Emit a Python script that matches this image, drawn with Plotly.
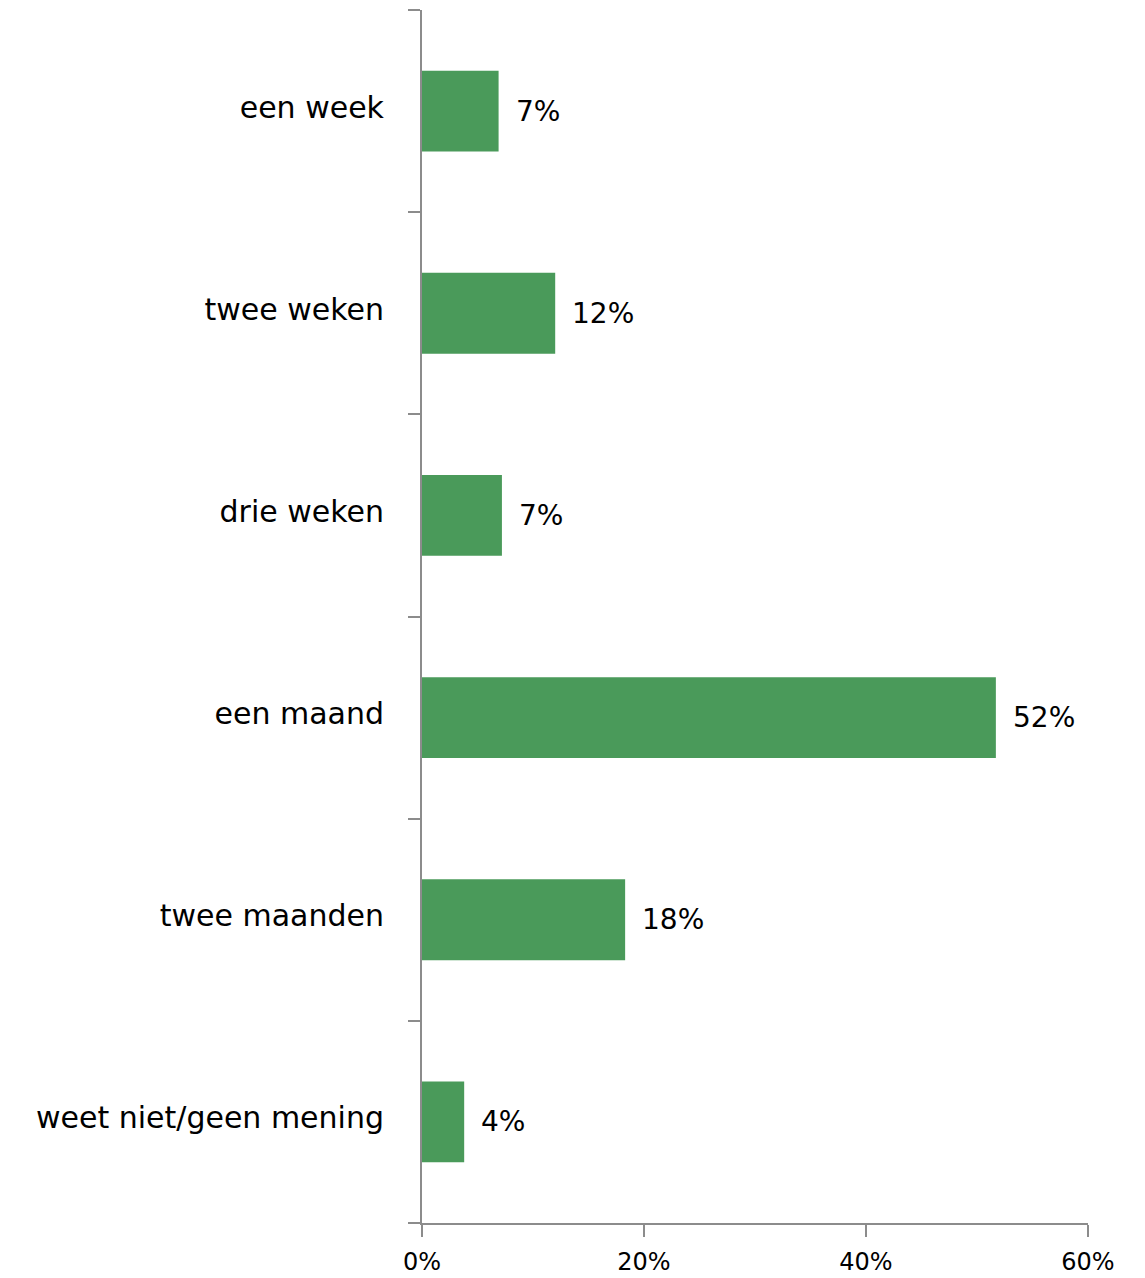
import plotly.graph_objects as go

categories = ["een week", "twee weken", "drie weken", "een maand", "twee maanden", "weet niet/geen mening"]
values = [6.9, 12.0, 7.2, 51.7, 18.3, 3.8]
value_labels = ["7%", "12%", "7%", "52%", "18%", "4%"]
x_tick_vals = [0, 20, 40, 60]
x_tick_text = ["0%", "20%", "40%", "60%"]

bar_color = "#4A9A5A"
axis_color = "#8C8C8C"
font_family = "DejaVu Sans"

fig = go.Figure()
fig.add_trace(go.Bar(
    y=categories,
    x=values,
    orientation="h",
    marker=dict(color=bar_color, line=dict(width=0)),
    hoverinfo="skip",
))

for cat, val, lab in zip(categories, values, value_labels):
    fig.add_annotation(
        x=val, y=cat, text=lab, showarrow=False,
        xanchor="left", yanchor="middle", xshift=15, yshift=0,
        font=dict(family=font_family, size=28, color="black"),
    )

fig.update_layout(
    width=1137, height=1270,
    margin=dict(l=414, r=57, t=2, b=53),
    paper_bgcolor="white", plot_bgcolor="white",
    showlegend=False,
    bargap=0.6,
    font=dict(family=font_family, color="black"),
)
fig.update_xaxes(
    range=[0, 60], tickvals=x_tick_vals, ticktext=x_tick_text,
    showgrid=False, zeroline=False,
    showline=True, linecolor=axis_color, linewidth=2,
    ticks="outside", ticklen=12, tickwidth=2, tickcolor=axis_color,
    tickfont=dict(family=font_family, size=24, color="black"),
    ticklabelstandoff=4,
    fixedrange=True,
)
fig.update_yaxes(
    categoryorder="array", categoryarray=categories[::-1],
    range=[-0.5, len(categories) - 0.5],
    tickson="boundaries",
    showgrid=False, zeroline=False,
    showline=True, linecolor=axis_color, linewidth=2,
    ticks="outside", ticklen=12, tickwidth=2, tickcolor=axis_color,
    tickfont=dict(family=font_family, size=30, color="black"),
    ticklabelstandoff=30,
    ticklabelshift=-4,
    fixedrange=True,
)

fig.write_html("out.html")
